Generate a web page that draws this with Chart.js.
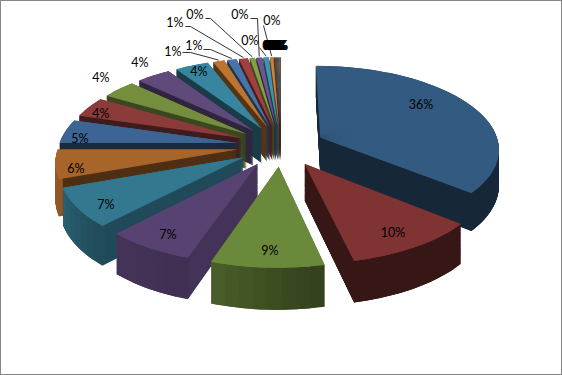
<!DOCTYPE html>
<html>
<head>
<meta charset="utf-8">
<style>
html,body{margin:0;padding:0;background:#fff;overflow:hidden}
#wrap{width:560px;height:373px;border:1px solid #868686}
canvas{display:block}
</style>
<script src="https://cdn.jsdelivr.net/npm/chart.js@4"></script>
</head>
<body>
<div id="wrap"><canvas id="pie" width="560" height="373"></canvas></div>
<script>
// percent of the whole
var shares = [36.0,10.5,8.7,6.85,7.45,5.55,4.6,3.9,3.6,3.6,3.5,1.2,1.0,0.95,0.55,0.6,0.55,0.35,
  0.03,0.03,0.03,0.03,0.03,0.03,0.03,0.03,0.03,0.03,0.03,0.03,0.03,0.03,0.03,0.03,0.03,0.03,0.03,0.03];
var shareLabels = ["36%","10%","9%","7%","7%","6%","5%","4%","4%","4%","4%","1%","1%","1%","0%","0%","0%","0%",
  "0%","0%","0%","0%","0%","0%","0%","0%","0%","0%","0%","0%","0%","0%","0%","0%","0%","0%","0%","0%"];
var topColors = ["#335a80","#7f3333","#6b893b","#584272","#33788f","#a8652a",
  "#3c6593","#8c3b3b","#748e3e","#604a7c","#37859f","#bc7430",
  "#4673a8","#a04040","#83a046","#6d5590","#3f95b0","#d08038"];
var wallShades = [.43,.43,.55,.77,.62,.47,.42,.45,.5,.5,.45,.45];
var rimShades = [[.43,.43],[.43,.43],[.47,.7],[.72,.78],[.62,.82],[.85,.95]];

// text spots, the wrap border shifts these by one
var labelSpots = [[421,105],[393,233],[270,251],[168,235],[106,205],[76,169],[80,139],[101,114],[101,78],[140,63],[199,72],
  [173,52],[194,46],[175,23],[195,15],[240,15],[250,41],[272,21]];
// first bends of the leader lines, the last point is worked out from the slice
var leaderBends = {
  11:[[182,52],[190,52]],
  12:[[203,49],[210,49]],
  13:[[185,26],[190,26]],
  14:[[205,18],[210,18]],
  15:[[250,18],[257,18]],
  16:[[259,47]],
  17:[[263,25]]
};

var cx = 280, cy = 145, radX = 179, radY = 82.6, persp = 0.125, depth = 35.5, burst = 0.245;
var DEG = Math.PI / 180;

function project(u, v, z) {
  var s = 1 / (1 + persp * v);
  return {x: cx + radX * u * s, y: cy - radY * v * s + z * depth * s};
}

function shade(hex, f) {
  var n = parseInt(hex.slice(1), 16);
  return "rgb(" + Math.round((n >> 16) * f) + "," + Math.round(((n >> 8) & 255) * f) + "," + Math.round((n & 255) * f) + ")";
}

// affine that takes a flat wedge of the library arc to its spot on the tilted pie
function wedgeMatrix(arc, a0, a1, mid, z) {
  var R = arc.outerRadius;
  var ex = burst * Math.cos(mid), ey = burst * Math.sin(mid);
  var q0 = project(ex, -ey, z);
  var q1 = project(ex + Math.cos(a0), -(ey + Math.sin(a0)), z);
  var q2 = project(ex + Math.cos(a1), -(ey + Math.sin(a1)), z);
  var ax = R * Math.cos(a0), ay = R * Math.sin(a0), bx = R * Math.cos(a1), by = R * Math.sin(a1);
  var det = ax * by - ay * bx;
  var Ax = q1.x - q0.x, Ay = q1.y - q0.y, Bx = q2.x - q0.x, By = q2.y - q0.y;
  var m = {
    a: (Ax * by - Bx * ay) / det,
    c: (Bx * ax - Ax * bx) / det,
    b: (Ay * by - By * ay) / det,
    d: (By * ax - Ay * bx) / det
  };
  m.e = q0.x - m.a * arc.x - m.c * arc.y;
  m.f = q0.y - m.b * arc.x - m.d * arc.y;
  return m;
}

function drawWedge(ctx, arc, w, m, fill) {
  var savedOpt = arc.options, s = arc.startAngle, e = arc.endAngle, c = arc.circumference;
  arc.options = Object.assign({}, savedOpt, {backgroundColor: fill});
  arc.startAngle = w.a0; arc.endAngle = w.a1; arc.circumference = w.a1 - w.a0;
  ctx.save();
  ctx.transform(m.a, m.b, m.c, m.d, m.e, m.f);
  arc.draw(ctx);
  ctx.restore();
  arc.options = savedOpt;
  arc.startAngle = s; arc.endAngle = e; arc.circumference = c;
}

function wallFill(ctx, arc, i, f) {
  var base = topColors[i % topColors.length];
  var ws = wallShades[i] || .45;
  var pair = rimShades[i] || [ws, ws];
  var rs = pair[0] + (pair[1] - pair[0]) * f;
  var g = ctx.createRadialGradient(arc.x, arc.y, 0, arc.x, arc.y, arc.outerRadius);
  g.addColorStop(0, shade(base, ws));
  g.addColorStop(.975, shade(base, ws));
  g.addColorStop(.98, shade(base, rs));
  g.addColorStop(1, shade(base, rs));
  return g;
}

// cut wide slices up so each bit can follow the perspective
function cutWedges(ctx, arc, i) {
  var s = arc.startAngle, e = arc.endAngle, mid = (s + e) / 2, wedges = [];
  var n = Math.max(1, Math.ceil((e - s) / (4 * DEG))), step = (e - s) / n;
  for (var j = 0; j < n; j++) {
    var a0 = s + step * j;
    // each bit runs on under the next one, hides the seams
    var a1 = Math.min(e, a0 + step * 2);
    wedges.push({
      a0: a0, a1: a1,
      top: wedgeMatrix(arc, a0, a1, mid, 0),
      bottom: wedgeMatrix(arc, a0, a1, mid, 1),
      wall: wallFill(ctx, arc, i, (j + .5) / n)
    });
  }
  return wedges;
}

var tiltPlugin = {
  id: "tilt",
  beforeDraw: function(chart) {
    chart.ctx.fillStyle = "#fff";
    chart.ctx.fillRect(0, 0, chart.width, chart.height);
  },
  beforeDatasetsDraw: function(chart) {
    var ctx = chart.ctx, arcs = chart.getDatasetMeta(0).data;
    var order = arcs.map(function(a, i) { return i; });
    // back slices first so the front ones paint over them
    order.sort(function(p, q) {
      return Math.sin((arcs[p].startAngle + arcs[p].endAngle) / 2) - Math.sin((arcs[q].startAngle + arcs[q].endAngle) / 2);
    });
    var cut = {};
    order.forEach(function(i) { cut[i] = cutWedges(ctx, arcs[i], i); });
    // all the side walls, then all the top faces
    order.forEach(function(i) {
      var steps = 70;
      for (var k = steps; k > 0; k--) {
        var t = k / steps;
        cut[i].forEach(function(w) {
          var m = {};
          ["a","b","c","d","e","f"].forEach(function(p) { m[p] = w.top[p] + (w.bottom[p] - w.top[p]) * t; });
          drawWedge(ctx, arcs[i], w, m, w.wall);
        });
      }
    });
    order.forEach(function(i) {
      cut[i].forEach(function(w) {
        drawWedge(ctx, arcs[i], w, w.top, topColors[i % topColors.length]);
      });
    });
    return false;
  },
  afterDraw: function(chart) {
    var ctx = chart.ctx, arcs = chart.getDatasetMeta(0).data;
    ctx.save();
    ctx.font = "12.5px Lato";
    ctx.textAlign = "center";
    ctx.textBaseline = "middle";
    arcs.forEach(function(arc, i) {
      var bends = leaderBends[i];
      if (bends) {
        var mid = (arc.startAngle + arc.endAngle) / 2;
        var ex = burst * Math.cos(mid), ey = burst * Math.sin(mid);
        var rim = project(ex + Math.cos(mid), -(ey + Math.sin(mid)), 0);
        ctx.strokeStyle = "#333";
        ctx.lineWidth = 1;
        ctx.beginPath();
        ctx.moveTo(bends[0][0] - 1 + .5, bends[0][1] - 1 + .5);
        if (bends[1]) ctx.lineTo(bends[1][0] - 1 + .5, bends[1][1] - 1 + .5);
        ctx.lineTo(rim.x, rim.y - 1);
        ctx.stroke();
      }
    });
    arcs.forEach(function(arc, i) {
      var lx, ly;
      if (labelSpots[i]) {
        lx = labelSpots[i][0] - 1;
        ly = labelSpots[i][1] - 1;
      } else {
        // the tiny ones pile up in one dark smear
        lx = 270 + (i - 18) * .45;
        ly = 45;
      }
      ctx.fillStyle = "#000";
      ctx.fillText(shareLabels[i], lx, ly);
    });
    ctx.restore();
  }
};

// opaque context so the text gets the same fringed look
document.getElementById("pie").getContext("2d", {alpha: false});

new Chart(document.getElementById("pie"), {
  type: "pie",
  data: {
    labels: shareLabels,
    datasets: [{data: shares, backgroundColor: topColors, borderWidth: 0}]
  },
  options: {
    responsive: false,
    animation: false,
    plugins: {legend: {display: false}, tooltip: {enabled: false}}
  },
  plugins: [tiltPlugin]
});
</script>
</body>
</html>
